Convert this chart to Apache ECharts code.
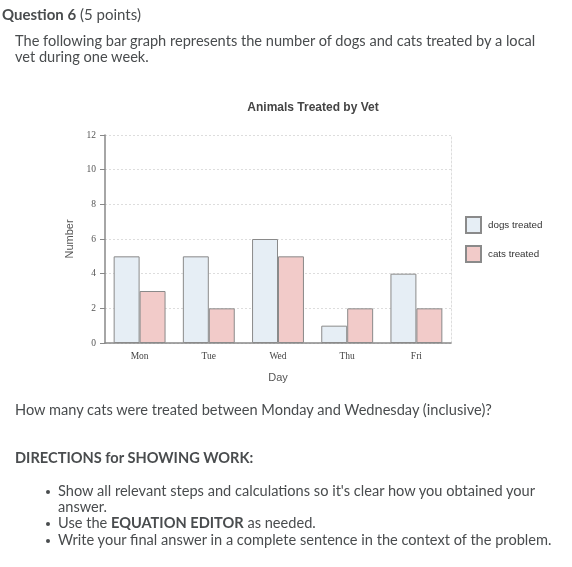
<!DOCTYPE html>
<html><head><meta charset="utf-8">
<script src="https://cdn.jsdelivr.net/npm/echarts@6/dist/echarts.min.js"></script>
<style>
html,body{margin:0;padding:0;background:#fff;}
#wrap{position:relative;width:572px;height:567px;overflow:hidden;font-family:Lato,"Open Sans",sans-serif;color:#494c4e;}
#chart{position:absolute;left:0;top:0;width:572px;height:567px;}
.t{position:absolute;font-size:14.6px;line-height:16px;white-space:nowrap;}
.bl{position:absolute;width:4px;height:4px;border-radius:50%;background:#494c4e;}
b{font-weight:bold;}
</style></head>
<body><div id="wrap">
<div id="chart"></div>
<div class="t" style="left:2px;top:6px;font-size:15px;"><b>Question 6</b> (5 points)</div>
<div class="t" style="left:15px;top:33px;">The following bar graph represents the number of dogs and cats treated by a local<br>vet during one week.</div>
<div class="t" style="left:15px;top:402px;">How many cats were treated between Monday and Wednesday (inclusive)?</div>
<div class="t" style="left:15px;top:450px;"><b>DIRECTIONS for SHOWING WORK:</b></div>
<div class="bl" style="left:46px;top:490px;"></div>
<div class="t" style="left:58px;top:483px;">Show all relevant steps and calculations so it's clear how you obtained your</div>
<div class="t" style="left:58px;top:499px;">answer.</div>
<div class="bl" style="left:46px;top:522px;"></div>
<div class="t" style="left:58px;top:515px;">Use the <b>EQUATION EDITOR</b> as needed.</div>
<div class="bl" style="left:46px;top:539px;"></div>
<div class="t" style="left:58px;top:532px;">Write your final answer in a complete sentence in the context of the problem.</div>
</div>
<script>
const days = ["Mon","Tue","Wed","Thu","Fri"];
const dogsTreated = [5,5,6,1,4];
const catsTreated = [3,2,5,2,2];
const yTicks = [0,2,4,6,8,10,12];

const chart = echarts.init(document.getElementById('chart'), null, {renderer:'canvas'});
chart.setOption({
  animation:false,
  title:{text:'Animals Treated by Vet',left:308,top:97,textAlign:'center',
    textStyle:{fontFamily:'Liberation Sans, Arial, sans-serif',fontSize:12,fontWeight:'bold',color:'#444'}},
  legend:{orient:'vertical',left:460,top:211,itemWidth:15,itemHeight:16,itemGap:11,icon:'rect',
    textStyle:{fontFamily:'Liberation Sans, Arial, sans-serif',fontSize:9.8,color:'#333',padding:[0,0,0,2]},
    data:['dogs treated','cats treated']},
  grid:{left:105,right:121,top:135,bottom:224,containLabel:false},
  xAxis:{type:'category',data:days,name:'Day',nameLocation:'middle',nameGap:29,
    nameTextStyle:{fontFamily:'Liberation Sans, Arial, sans-serif',fontSize:11,color:'#555'},
    axisLine:{lineStyle:{color:'#888',width:1.5}},axisTick:{show:false},
    axisLabel:{fontFamily:'Liberation Serif, Times New Roman, serif',fontSize:9.5,color:'#444',margin:8}},
  yAxis:[{type:'value',min:yTicks[0],max:yTicks[yTicks.length-1],interval:2,name:'Number',nameLocation:'middle',nameGap:28,
    nameTextStyle:{fontFamily:'Liberation Sans, Arial, sans-serif',fontSize:11,color:'#555'},
    axisLine:{show:true,lineStyle:{color:'#888',width:1.5}},axisTick:{show:true,length:5,lineStyle:{color:'#888'}},
    axisLabel:{fontFamily:'Liberation Serif, Times New Roman, serif',fontSize:9.5,color:'#555',margin:9},
    splitLine:{lineStyle:{type:[2,2],color:'#ddd'}}},
   {type:'value',min:0,max:12,interval:2,position:'right',axisLine:{show:true,lineStyle:{type:[2,2],color:'#ddd'}},
    axisTick:{show:false},axisLabel:{show:false},splitLine:{show:false}}],
  series:[
    {name:'dogs treated',type:'bar',data:dogsTreated,barGap:'0%',barCategoryGap:'25%',
      itemStyle:{color:'#e6eef5',borderColor:'#8a8a8a',borderWidth:1}},
    {name:'cats treated',type:'bar',data:catsTreated,barGap:'0%',barCategoryGap:'25%',
      itemStyle:{color:'#f2cbc9',borderColor:'#8a8a8a',borderWidth:1}}
  ]
});
</script>
</body></html>
